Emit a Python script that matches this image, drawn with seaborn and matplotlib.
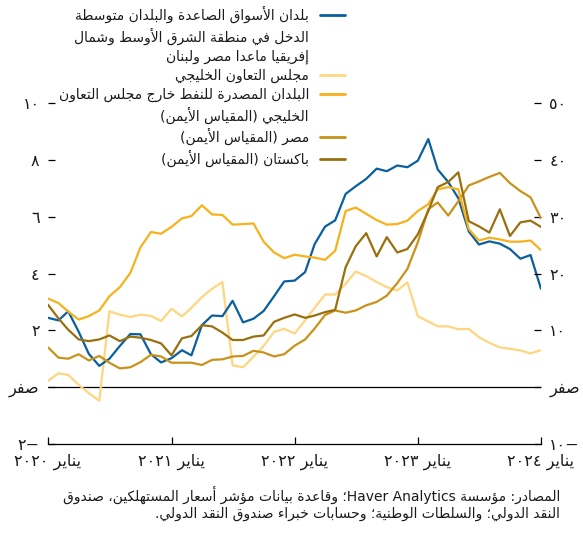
import re
import unicodedata
import pandas as pd
import matplotlib
matplotlib.use("Agg")
import matplotlib.pyplot as plt
from matplotlib.lines import Line2D
import seaborn as sns

# monthly data, Jan 2020 - Jan 2024
months = pd.date_range("2020-01-01", periods=49, freq="MS")

# left axis (percent)
mena_em = [2.44, 2.35, 2.67, 1.95, 1.17, 0.75, 1.00, 1.45, 1.87, 1.86,
           1.16, 0.87, 1.02, 1.30, 1.12, 2.18, 2.52, 2.50, 3.04, 2.28,
           2.41, 2.68, 3.20, 3.72, 3.75, 4.05, 5.03, 5.65, 5.87, 6.80,
           7.07, 7.33, 7.69, 7.60, 7.80, 7.74, 7.97, 8.73, 7.66, 7.22,
           6.65, 5.48, 5.02, 5.13, 5.05, 4.86, 4.52, 4.65, 3.46]
gcc = [0.22, 0.49, 0.43, 0.08, -0.21, -0.48, 2.67, 2.55, 2.47, 2.55,
       2.51, 2.33, 2.76, 2.49, 2.79, 3.17, 3.46, 3.70, 0.77, 0.70,
       1.07, 1.45, 1.95, 2.05, 1.89, 2.35, 2.79, 3.26, 3.26, 3.64,
       4.07, 3.91, 3.70, 3.52, 3.40, 3.69, 2.50, 2.31, 2.14, 2.14,
       2.04, 2.05, 1.76, 1.56, 1.40, 1.35, 1.29, 1.19, 1.30]

# right axis (percent)
oil_ex = [15.6, 14.8, 13.3, 11.9, 12.5, 13.5, 16.0, 17.6, 20.1, 24.6,
          27.3, 27.0, 28.2, 29.7, 30.1, 32.0, 30.4, 30.3, 28.6, 28.7,
          28.8, 25.6, 23.7, 22.7, 23.3, 23.0, 22.8, 22.4, 24.0, 31.0,
          31.6, 30.5, 29.4, 28.6, 28.7, 29.3, 31.0, 32.2, 34.8, 35.2,
          34.8, 27.8, 25.8, 26.3, 26.0, 25.6, 25.6, 25.8, 24.1]
egypt = [7.0, 5.2, 5.0, 5.8, 4.7, 5.5, 4.3, 3.3, 3.5, 4.4,
         5.7, 5.4, 4.3, 4.3, 4.3, 3.9, 4.8, 4.9, 5.4, 5.5,
         6.4, 6.1, 5.4, 5.8, 7.3, 8.4, 10.3, 12.7, 13.5, 13.1,
         13.5, 14.4, 15.0, 16.1, 18.3, 20.8, 25.5, 31.3, 32.5, 30.2,
         32.7, 35.5, 36.2, 37.0, 37.7, 35.9, 34.5, 33.4, 29.7]
pakistan = [14.5, 12.1, 10.1, 8.4, 8.1, 8.4, 9.1, 8.1, 8.9, 8.7,
            8.3, 7.7, 5.6, 8.6, 9.0, 10.9, 10.7, 9.6, 8.3, 8.3,
            8.9, 9.1, 11.5, 12.2, 12.8, 12.2, 12.6, 13.2, 13.6, 21.1,
            24.8, 27.1, 23.0, 26.4, 23.7, 24.3, 26.9, 31.0, 35.2, 36.1,
            37.8, 29.2, 28.3, 27.2, 31.3, 26.6, 29.0, 29.3, 28.2]

year_labels = ["يناير ٢٠٢٠", "يناير ٢٠٢١", "يناير ٢٠٢٢", "يناير ٢٠٢٣", "يناير ٢٠٢٤"]
left_ticks = [-2, 0, 2, 4, 6, 8, 10]
left_labels = ["−٢", "صفر", "٢", "٤", "٦", "٨", "١٠"]
right_ticks = [-10, 0, 10, 20, 30, 40, 50]
right_labels = ["−١٠", "صفر", "١٠", "٢٠", "٣٠", "٤٠", "٥٠"]

lbl_mena = ["بلدان الأسواق الصاعدة والبلدان متوسطة",
            "الدخل في منطقة الشرق الأوسط وشمال",
            "إفريقيا ماعدا مصر ولبنان"]
lbl_gcc = ["مجلس التعاون الخليجي"]
lbl_oil = ["البلدان المصدرة للنفط خارج مجلس التعاون",
           "الخليجي (المقياس الأيمن)"]
lbl_egypt = ["مصر (المقياس الأيمن)"]
lbl_pak = ["باكستان (المقياس الأيمن)"]

source = ["المصادر: مؤسسة Haver Analytics؛ وقاعدة بيانات مؤشر أسعار المستهلكين، صندوق",
          "النقد الدولي؛ والسلطات الوطنية؛ وحسابات خبراء صندوق النقد الدولي."]

c_blue = "#0b5f9e"
c_gcc = "#ffd680"
c_oil = "#f7b11c"
c_egypt = "#c9921b"
c_pak = "#9a6f10"

# --- minimal Arabic shaping (presentation forms) + visual reordering ---
FORMS = {}
for cp in range(0xFE80, 0xFEFD):
    name = unicodedata.name(chr(cp), "")
    for form in ("ISOLATED", "FINAL", "INITIAL", "MEDIAL"):
        tail = " " + form + " FORM"
        if name.endswith(tail) and "LIGATURE" not in name:
            try:
                base = unicodedata.lookup(name[:-len(tail)])
            except KeyError:
                continue
            FORMS.setdefault(base, {})[form] = chr(cp)

LAM_ALEF = {"\u0622": ("\uFEF5", "\uFEF6"), "\u0623": ("\uFEF7", "\uFEF8"),
            "\u0625": ("\uFEF9", "\uFEFA"), "\u0627": ("\uFEFB", "\uFEFC")}


def joins_next(c):
    f = FORMS.get(c, {})
    return "INITIAL" in f or "MEDIAL" in f


def joins_prev(c):
    return "FINAL" in FORMS.get(c, {})


def shape(s):
    out = []
    i = 0
    while i < len(s):
        c = s[i]
        prev = s[i - 1] if i > 0 else ""
        link_prev = joins_next(prev) and joins_prev(c)
        if c == "\u0644" and i + 1 < len(s) and s[i + 1] in LAM_ALEF:
            iso, fin = LAM_ALEF[s[i + 1]]
            out.append(fin if link_prev else iso)
            i += 2
            continue
        if c not in FORMS:
            out.append(c)
            i += 1
            continue
        nxt = s[i + 1] if i + 1 < len(s) else ""
        link_next = joins_next(c) and joins_prev(nxt)
        f = FORMS[c]
        if link_prev and link_next:
            out.append(f.get("MEDIAL", c))
        elif link_prev:
            out.append(f.get("FINAL", c))
        elif link_next:
            out.append(f.get("INITIAL", c))
        else:
            out.append(f.get("ISOLATED", c))
        i += 1
    return "".join(out)


LTR = re.compile(r"([A-Za-z0-9\u0660-\u0669]+(?: [A-Za-z0-9\u0660-\u0669]+)*)")
MIRROR = str.maketrans("()", ")(")


def ar(text):
    parts = LTR.split(shape(text))
    vis = [p if k % 2 else p[::-1].translate(MIRROR) for k, p in enumerate(parts)]
    return "".join(reversed(vis))


# --- plot ---
sns.set_style("white")
plt.rcParams["font.family"] = ["DejaVu Sans"]
txt = "#1a1a1a"
lw = 1.6

fig = plt.figure(figsize=(5.83, 5.44), dpi=100)
ax = fig.add_axes([48 / 583, 100 / 544, 493 / 583, 341 / 544])
ax2 = ax.twinx()

ax.axhline(0, color="black", lw=0.9, zorder=1)
sns.lineplot(x=months, y=gcc, ax=ax, color=c_gcc, lw=lw)
sns.lineplot(x=months, y=mena_em, ax=ax, color=c_blue, lw=lw)
sns.lineplot(x=months, y=egypt, ax=ax2, color=c_egypt, lw=lw)
sns.lineplot(x=months, y=oil_ex, ax=ax2, color=c_oil, lw=lw)
sns.lineplot(x=months, y=pakistan, ax=ax2, color=c_pak, lw=lw)

ax.set_xlim(months[0], months[-1])
ax.set_ylim(-2, 10)
ax2.set_ylim(-10, 50)

ax.set_xticks(pd.to_datetime(["2020-01-01", "2021-01-01", "2022-01-01",
                              "2023-01-01", "2024-01-01"]))
ax.set_xticklabels([ar(t) for t in year_labels])
ax.set_yticks(left_ticks)
ax.set_yticklabels([ar(t) for t in left_labels])
ax2.set_yticks(right_ticks)
ax2.set_yticklabels([ar(t) for t in right_labels])
ax.set_xlabel("")
ax.set_ylabel("")
ax2.set_ylabel("")

for a in (ax, ax2):
    for side in ("left", "right", "top", "bottom"):
        a.spines[side].set_visible(False)
ax.spines["bottom"].set_visible(True)
ax.spines["bottom"].set_color("black")
ax.spines["bottom"].set_linewidth(0.9)

ax.tick_params(axis="x", direction="in", length=5, width=0.9, color="black",
               labelsize=11.5, labelcolor=txt, pad=7, bottom=True)
ax.tick_params(axis="y", direction="in", length=5, width=0.9, color="black",
               labelsize=11.5, labelcolor=txt, pad=6, left=True)
ax2.tick_params(axis="y", direction="in", length=5, width=0.9, color="black",
                labelsize=11.5, labelcolor=txt, pad=6, right=True)

# legend: one row per text line, handle on the first line of each entry
handles, labels = [], []
for color, lines in [(c_blue, lbl_mena), (c_gcc, lbl_gcc), (c_oil, lbl_oil),
                     (c_egypt, lbl_egypt), (c_pak, lbl_pak)]:
    for k, t in enumerate(lines):
        handles.append(Line2D([], [], color=color if k == 0 else "none", lw=2))
        labels.append(ar(t))
fig.legend(handles, labels, loc="upper right", bbox_to_anchor=(345 / 583, 1 - 6 / 544),
           frameon=False, markerfirst=False, fontsize=10, labelcolor=txt,
           handlelength=1.8, handletextpad=0.8, labelspacing=0.33,
           borderpad=0, borderaxespad=0)

fig.text(560 / 583, 1 - 486 / 544, "\n".join(ar(t) for t in source),
         ha="right", va="top", ma="right", fontsize=10, color=txt, linespacing=1.25)

fig.savefig("out.png", dpi=100)
